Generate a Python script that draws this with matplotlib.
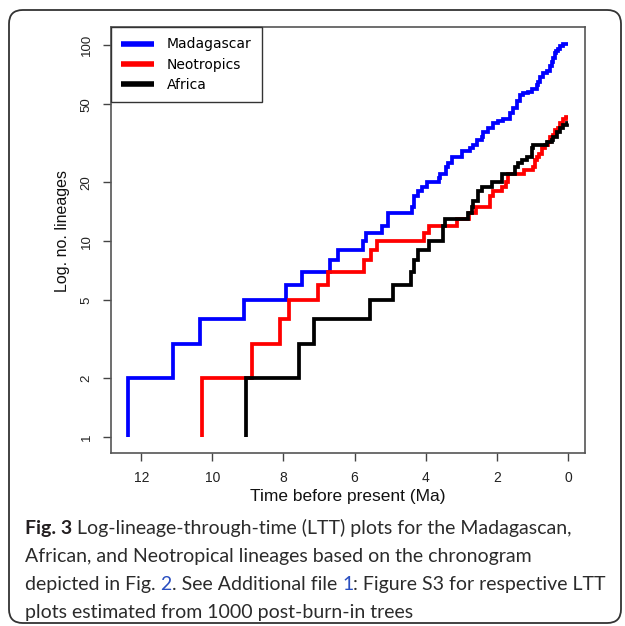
import matplotlib.pyplot as plt
from matplotlib.patches import FancyBboxPatch

# lineage-through-time step data (time before present in Ma, number of lineages)
mad_t = [12.37, 12.37, 11.11, 10.36, 9.10, 7.93, 7.48, 6.69, 6.48, 5.75,
         5.67, 5.23, 5.06, 4.39, 4.33, 4.22, 4.11, 3.95, 3.64, 3.60,
         3.43, 3.36, 3.27, 2.99, 2.75, 2.66, 2.56, 2.42, 2.38, 2.24,
         2.10, 1.96, 1.82, 1.63, 1.54, 1.44, 1.35, 1.26, 1.12, 1.02,
         0.88, 0.83, 0.79, 0.69, 0.60, 0.51, 0.46, 0.42, 0.37, 0.33,
         0.27, 0.22, 0.13, 0.0]
mad_n = [1, 2, 3, 4, 5, 6, 7, 8, 9, 10,
         11, 12, 14, 15, 17, 18, 19, 20, 21, 22,
         24, 25, 27, 29, 30, 31, 33, 34, 36, 38,
         40, 41, 42, 45, 48, 52, 56, 57, 58, 60,
         63, 65, 69, 72, 74, 78, 82, 86, 91, 94,
         96, 99, 102, 102]

neo_t = [10.28, 10.28, 8.89, 8.11, 7.84, 7.04, 6.76, 5.73, 5.54, 5.37,
         4.04, 3.92, 3.13, 2.78, 2.58, 2.19, 2.10, 1.86, 1.75, 1.68,
         1.24, 0.97, 0.92, 0.88, 0.81, 0.72, 0.65, 0.55, 0.51, 0.42,
         0.37, 0.27, 0.22, 0.13, 0.05, 0.0]
neo_n = [1, 2, 3, 4, 5, 6, 7, 8, 9, 10,
         11, 12, 13, 14, 15, 17, 18, 19, 20, 22,
         23, 24, 26, 27, 28, 30, 31, 32, 34, 35,
         37, 38, 40, 42, 43, 43]

afr_t = [9.06, 9.06, 7.55, 7.13, 5.56, 4.91, 4.42, 4.33, 4.23, 3.90,
         3.50, 3.45, 2.80, 2.71, 2.66, 2.52, 2.42, 2.14, 1.86, 1.49,
         1.40, 1.30, 1.16, 1.02, 0.97, 0.60, 0.46, 0.41, 0.32, 0.22,
         0.13, 0.04, 0.0]
afr_n = [1, 2, 3, 4, 5, 6, 7, 8, 9, 10,
         12, 13, 14, 15, 16, 18, 19, 20, 22, 24,
         25, 26, 27, 30, 31, 32, 33, 34, 36, 38,
         39, 40, 40]

series = ['Madagascar', 'Neotropics', 'Africa']
colors = ['#0000ff', '#ff0000', '#000000']
x_ticks = [12, 10, 8, 6, 4, 2, 0]
y_ticks = [1, 2, 5, 10, 20, 50, 100]

W, H = 625, 626


def fx(px):
    return px / W


def fy(py):
    return 1 - py / H


fig = plt.figure(figsize=(6.25, 6.26), dpi=100)

# rounded frame around figure + caption
frame = FancyBboxPatch((fx(9), fy(623)), fx(621) - fx(9), fy(10) - fy(623),
                       boxstyle='round,pad=0,rounding_size=0.022',
                       transform=fig.transFigure, fill=False,
                       ec='#333333', lw=1.3)
fig.patches.append(frame)

ax = fig.add_axes([fx(110.7), fy(453), fx(585) - fx(110.7), fy(27) - fy(453)])
for t, n, c, lab in zip([mad_t, neo_t, afr_t], [mad_n, neo_n, afr_n], colors, series):
    ax.step(t, n, where='post', color=c, lw=2.7, label=lab,
            solid_capstyle='butt', solid_joinstyle='miter')

ax.set_yscale('log')
ax.set_xlim(12.86, -0.48)
ax.set_ylim(0.83, 124)
ax.set_xticks(x_ticks)
ax.set_xticklabels([str(v) for v in x_ticks], fontsize=10, family='Liberation Sans')
ax.set_yticks(y_ticks)
ax.set_yticklabels([str(v) for v in y_ticks], fontsize=9.5, family='Liberation Sans',
                   rotation=90, va='center')
ax.minorticks_off()
ax.tick_params(axis='x', direction='out', length=6, width=1, colors='#444444',
               labelcolor='#222222', pad=7)
ax.tick_params(axis='y', direction='out', length=6, width=1, colors='#444444',
               labelcolor='#222222', pad=7)
for sp in ax.spines.values():
    sp.set_color('#555555')
    sp.set_linewidth(1.2)

leg = ax.legend(loc='upper left', borderaxespad=0, fancybox=False,
                edgecolor='#333333', framealpha=1, handlelength=2.4,
                handletextpad=0.9, borderpad=0.75, labelspacing=0.45,
                prop={'family': 'DejaVu Sans', 'size': 10})
leg.get_frame().set_linewidth(1.0)
for line in leg.get_lines():
    line.set_linewidth(4)

fig.text(fx(348), fy(496), 'Time before present (Ma)', ha='center', va='center',
         fontsize=12.5, family='Liberation Sans', color='#111111')
fig.text(fx(63), fy(231), 'Log. no. lineages', ha='center', va='center',
         rotation=90, fontsize=11.5, family='Liberation Sans', color='#111111')

# caption
cap_kw = dict(fontsize=14, family='Lato', color='#2b2b2b')
link = '#2a4fc0'


def chain(prev, s, **kw):
    return ax.annotate(s, xy=(1, 0), xycoords=prev, va='bottom', ha='left',
                       annotation_clip=False, **kw)


t1 = fig.text(fx(25), fy(537), 'Fig. 3', va='bottom', fontsize=14, family='Lato',
              fontweight='bold', color='#231f20')
chain(t1, ' Log-lineage-through-time (LTT) plots for the Madagascan,', **cap_kw)
fig.text(fx(25), fy(565), 'African, and Neotropical lineages based on the chronogram',
         va='bottom', **cap_kw)
t3 = fig.text(fx(25), fy(593), 'depicted in Fig. ', va='bottom', **cap_kw)
t3 = chain(t3, '2', fontsize=14, family='Lato', color=link)
t3 = chain(t3, '. See Additional file ', **cap_kw)
t3 = chain(t3, '1', fontsize=14, family='Lato', color=link)
chain(t3, ': Figure S3 for respective LTT', **cap_kw)
fig.text(fx(25), fy(621), 'plots estimated from 1000 post-burn-in trees',
         va='bottom', **cap_kw)

fig.savefig('out.png', dpi=100)
